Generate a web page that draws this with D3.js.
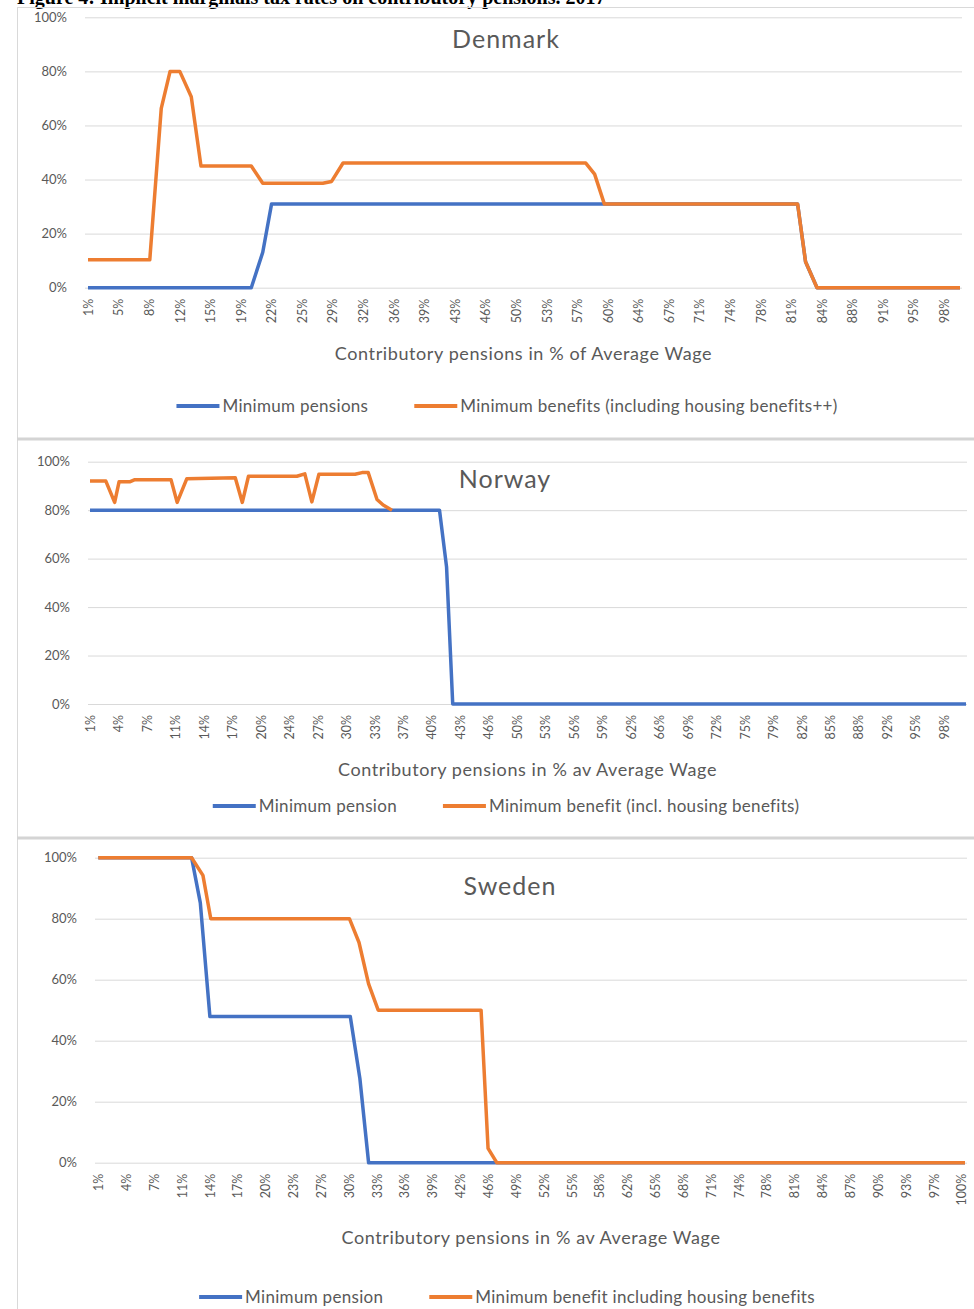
<!DOCTYPE html>
<html>
<head>
<meta charset="utf-8">
<script src="https://cdn.jsdelivr.net/npm/d3@7"></script>
<style>
  html, body { margin: 0; padding: 0; background: #fff; overflow: hidden; }
  text { font-family: Lato, 'Noto Sans', sans-serif; fill: #595959; }
</style>
</head>
<body>
<div class="visualization"></div>
<script>
'use strict'

// category labels shown on each x axis (Excel shows every 3rd category)
var denmarkTicks = ['1%', '5%', '8%', '12%', '15%', '19%', '22%', '25%', '29%', '32%', '36%', '39%', '43%', '46%', '50%',
  '53%', '57%', '60%', '64%', '67%', '71%', '74%', '78%', '81%', '84%', '88%', '91%', '95%', '98%']
var norwayTicks = ['1%', '4%', '7%', '11%', '14%', '17%', '20%', '24%', '27%', '30%', '33%', '37%', '40%', '43%', '46%', '50%',
  '53%', '56%', '59%', '62%', '66%', '69%', '72%', '75%', '79%', '82%', '85%', '88%', '92%', '95%', '98%']
var swedenTicks = ['1%', '4%', '7%', '11%', '14%', '17%', '20%', '23%', '27%', '30%', '33%', '36%', '39%', '42%', '46%', '49%',
  '52%', '55%', '58%', '62%', '65%', '68%', '71%', '74%', '78%', '81%', '84%', '87%', '90%', '93%', '97%', '100%']

var yTicks = [0, 20, 40, 60, 80, 100]

// [contributory pension in % of average wage, rate in %]
var denmarkPensions = [[1, 0], [19.5, 0], [20.8, 13.1], [21.8, 31], [81.4, 31], [82.3, 9.6], [83.6, 0], [99.8, 0]]
var denmarkBenefits = [[1, 10.3], [8.0, 10.3], [9.3, 66.3], [10.3, 80], [11.4, 80], [12.7, 70.6], [13.8, 45], [19.5, 45],
  [20.8, 38.6], [27.6, 38.6], [28.6, 39.3], [29.9, 46.1], [57.4, 46.1], [58.4, 42], [59.5, 31], [81.4, 31],
  [82.3, 9.6], [83.6, 0], [99.8, 0]]

var norwayPensions = [[1, 80], [40.7, 80], [41.5, 56.6], [42.2, 0], [100.5, 0]]
var norwayBenefits = [[1, 92], [2.8, 92], [3.8, 83.2], [4.3, 91.7], [5.5, 91.7], [6.1, 92.6], [10.2, 92.6], [10.9, 83.2],
  [12.0, 93.0], [17.5, 93.4], [18.3, 83.2], [19.0, 94.0], [24.5, 94.0], [25.4, 95.0], [26.2, 83.4], [27.0, 94.8],
  [31.1, 94.8], [31.9, 95.5], [32.6, 95.5], [33.6, 84.4], [34.3, 82.1], [35.3, 80]]

var swedenPensions = [[1, 100], [11.7, 100], [12.7, 85.2], [13.8, 47.9], [29.9, 47.9], [31.0, 27.6], [32.0, 0], [100.4, 0]]
var swedenBenefits = [[1, 100], [11.7, 100], [13.0, 94.2], [13.9, 80], [29.8, 80], [30.9, 72.2], [32.0, 58.6], [33.1, 50],
  [44.9, 50], [45.7, 4.7], [46.7, 0], [100.4, 0]]

var denmarkLegend = ['Minimum pensions', 'Minimum benefits (including housing benefits++)']
var norwayLegend = ['Minimum pension', 'Minimum benefit (incl. housing benefits)']
var swedenLegend = ['Minimum pension', 'Minimum benefit including housing benefits']

var colors = ['#4472C4', '#ED7D31']

var width = 974
var height = 1309

var svg = d3.select('.visualization').append('svg')
  .attr('width', width)
  .attr('height', height)

// report title, cut off at the top of the page
svg.append('text')
  .attr('x', 17)
  .attr('y', 4)
  .style('font-family', "'Liberation Serif', serif")
  .style('font-weight', 'bold')
  .style('font-size', '20px')
  .style('fill', '#000')
  .text('Figure 4: Implicit marginals tax rates on contributory pensions. 2017')

var panels = [
  {
    title: 'Denmark', ticks: denmarkTicks, series: [denmarkPensions, denmarkBenefits], legend: denmarkLegend,
    axisTitle: 'Contributory pensions in % of Average Wage',
    frameTop: 7, frameBottom: 439,
    left: 85, right: 962, top: 17.3, bottom: 287.7, dataLeft: 88, dataRight: 960,
    titleX: 506, titleY: 48, axisTitleY: 360, legendY: 406, legendX: 507
  },
  {
    title: 'Norway', ticks: norwayTicks, series: [norwayPensions, norwayBenefits], legend: norwayLegend,
    axisTitle: 'Contributory pensions in % av Average Wage',
    frameTop: 439, frameBottom: 838,
    left: 88, right: 967, top: 461.7, bottom: 704, dataLeft: 90, dataRight: 966,
    titleX: 505, titleY: 488, axisTitleY: 776, legendY: 806, legendX: 506
  },
  {
    title: 'Sweden', ticks: swedenTicks, series: [swedenPensions, swedenBenefits], legend: swedenLegend,
    axisTitle: 'Contributory pensions in % av Average Wage',
    frameTop: 838, frameBottom: 1330,
    left: 95, right: 967, top: 857.7, bottom: 1162.7, dataLeft: 98.3, dataRight: 965,
    titleX: 510, titleY: 895, axisTitleY: 1244, legendY: 1297, legendX: 507
  }
]

var drawPanel = function (p) {
  var g = svg.append('g')

  // chart frame
  g.append('rect')
    .attr('x', 17.5)
    .attr('y', p.frameTop + 0.5)
    .attr('width', 1000)
    .attr('height', p.frameBottom - p.frameTop)
    .attr('fill', 'none')
    .attr('stroke', '#d9d9d9')

  var first = parseFloat(p.ticks[0])
  var last = parseFloat(p.ticks[p.ticks.length - 1])
  var step = (last - first) / (p.ticks.length - 1)
  var xEnd = p.series[0][p.series[0].length - 1][0]

  var x = d3.scaleLinear().domain([first, xEnd]).range([p.dataLeft, p.dataRight])
  var y = d3.scaleLinear().domain([0, 100]).range([p.bottom, p.top])

  // horizontal gridlines + y labels
  var yAxis = g.append('g')
    .attr('transform', 'translate(' + p.left + ',0)')
    .call(d3.axisLeft(y).tickValues(yTicks).tickSize(-(p.right - p.left)).tickPadding(18)
      .tickFormat(function (d) { return d + '%' }))
  yAxis.select('.domain').remove()
  yAxis.selectAll('line').attr('stroke', '#d9d9d9')
  yAxis.selectAll('text')
    .style('font-family', 'Lato, sans-serif')
    .style('font-size', '13px')
    .attr('fill', '#595959')

  // rotated category labels
  var tickValues = p.ticks.map(function (t, i) { return first + i * step })
  var xAxis = g.append('g')
    .attr('transform', 'translate(0,' + p.bottom + ')')
    .call(d3.axisBottom(x).tickValues(tickValues).tickSize(0)
      .tickFormat(function (d, i) { return p.ticks[i] }))
  xAxis.select('.domain').remove()
  xAxis.selectAll('text')
    .style('font-family', 'Lato, sans-serif')
    .style('font-size', '12.5px')
    .attr('fill', '#595959')
    .attr('text-anchor', 'end')
    .attr('transform', 'translate(0,11) rotate(-90)')
    .attr('x', 0)
    .attr('y', 0)
    .attr('dy', '0.35em')

  var line = d3.line()
    .x(function (d) { return x(d[0]) })
    .y(function (d) { return y(d[1]) })

  p.series.forEach(function (s, i) {
    g.append('path')
      .datum(s)
      .attr('d', line)
      .attr('fill', 'none')
      .attr('stroke', colors[i])
      .attr('stroke-width', 3.5)
      .attr('stroke-linejoin', 'round')
  })

  g.append('text')
    .attr('x', p.titleX)
    .attr('y', p.titleY)
    .attr('text-anchor', 'middle')
    .style('font-size', '25px')
    .style('letter-spacing', '1px')
    .text(p.title)

  g.append('text')
    .attr('x', (p.left + p.right) / 2)
    .attr('y', p.axisTitleY)
    .attr('text-anchor', 'middle')
    .style('font-size', '18px')
    .style('letter-spacing', '0.6px')
    .text(p.axisTitle)

  // legend, centred under the plot
  var legend = g.append('g')
  var cursor = 0
  p.legend.forEach(function (label, i) {
    var item = legend.append('g').attr('transform', 'translate(' + cursor + ',0)')
    item.append('line')
      .attr('x1', 0).attr('x2', 43)
      .attr('y1', 0).attr('y2', 0)
      .attr('stroke', colors[i])
      .attr('stroke-width', 4)
    var t = item.append('text')
      .attr('x', 46)
      .attr('dy', '0.35em')
      .style('font-size', '17px')
      .style('letter-spacing', '0.3px')
      .text(label)
    cursor += 46 + t.node().getComputedTextLength() + 46
  })
  var legendWidth = cursor - 46
  legend.attr('transform', 'translate(' + (p.legendX - legendWidth / 2) + ',' + p.legendY + ')')
}

panels.forEach(drawPanel)

// heavier separators where two charts meet
;[439, 838].forEach(function (yy) {
  svg.append('line')
    .attr('x1', 17).attr('x2', width)
    .attr('y1', yy).attr('y2', yy)
    .attr('stroke', '#d4d4d4')
    .attr('stroke-width', 3)
})
</script>
</body>
</html>
